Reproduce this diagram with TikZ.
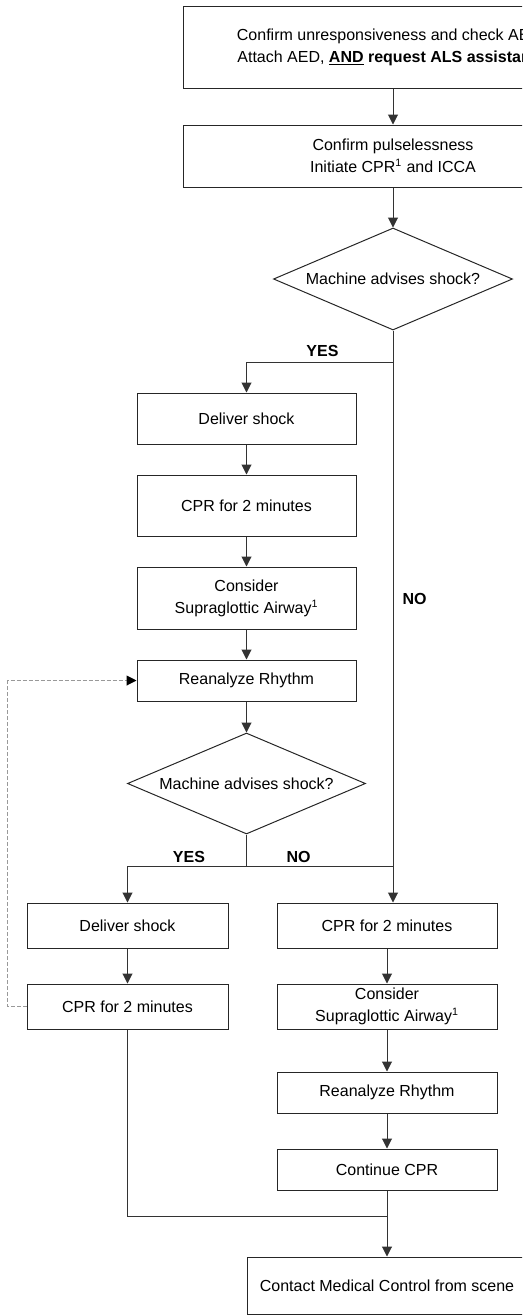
\documentclass[tikz,border=0pt]{standalone}
\usepackage{fontspec}
\setmainfont{Liberation Sans}
\usetikzlibrary{shapes.geometric,arrows.meta}

\tikzset{
  box/.style={draw=black!85, line width=0.75pt, align=center, inner sep=0pt,
    font=\fontsize{12}{16.5}\selectfont},
  ask/.style={diamond, shape aspect=2.34, draw=black!85, line width=0.75pt, inner sep=0pt,
    font=\fontsize{12}{16.5}\selectfont},
  flow/.style={draw=black!80, line width=0.75pt},
  go/.style={flow, -{Triangle[length=7.5pt,width=7.5pt]}},
  back/.style={draw=black!40, line width=0.75pt, dash pattern=on 3pt off 1.5pt,
    -{Triangle[length=7.5pt,width=7.5pt,black]}},
  tag/.style={font=\fontsize{12}{14}\selectfont\bfseries}
}

\begin{document}
\begin{tikzpicture}[x=0.75pt, y=-0.75pt]
			\path[use as bounding box, clip] (0,0) rectangle (522,1315);
			% top of the chart
			\node[box, minimum width=420*0.75pt, minimum height=82*0.75pt] (check) at (393,47)
			  {Confirm unresponsiveness and check ABCs\\Attach AED, \underline{\textbf{AND}} \textbf{request ALS assistance}};
			\node[box, minimum width=420*0.75pt, minimum height=62*0.75pt] (pulse) at (393,156)
			  {Confirm pulselessness\\Initiate CPR\textsuperscript{1} and ICCA};
			\node[ask, minimum width=239*0.75pt, minimum height=102*0.75pt] (shockA) at (393,279) {Machine advises shock?};
			% first shock column
			\node[box, minimum width=219*0.75pt, minimum height=51*0.75pt] (shock1) at (246.5,418.5) {Deliver shock};
			\node[box, minimum width=219*0.75pt, minimum height=61*0.75pt] (cpr1) at (246.5,505.5) {CPR for 2 minutes};
			\node[box, minimum width=219*0.75pt, minimum height=62*0.75pt] (airway1) at (246.5,598) {Consider\\Supraglottic Airway\textsuperscript{1}};
			\node[box, minimum width=219*0.75pt, minimum height=41*0.75pt] (rhythm1) at (246.5,680.5) {Reanalyze Rhythm};
			\node[ask, minimum width=238*0.75pt, minimum height=101*0.75pt] (shockB) at (246.5,783.5) {Machine advises shock?};
			% second shock column
			\node[box, minimum width=201*0.75pt, minimum height=45*0.75pt] (shock2) at (127.5,925.5) {Deliver shock};
			\node[box, minimum width=201*0.75pt, minimum height=45*0.75pt] (cpr2) at (127.5,1006.5) {CPR for 2 minutes};
			% no shock column
			\node[box, minimum width=220*0.75pt, minimum height=45*0.75pt] (cpr3) at (387,925.5) {CPR for 2 minutes};
			\node[box, minimum width=220*0.75pt, minimum height=45*0.75pt] (airway2) at (387,1006.5) {Consider\\Supraglottic Airway\textsuperscript{1}};
			\node[box, minimum width=220*0.75pt, minimum height=41*0.75pt] (rhythm2) at (387,1092.5) {Reanalyze Rhythm};
			\node[box, minimum width=220*0.75pt, minimum height=41*0.75pt] (cont) at (387,1169.5) {Continue CPR};
			\node[box, minimum width=280*0.75pt, minimum height=57*0.75pt] (medctl) at (387,1285.5) {Contact Medical Control from scene};
			% branch points
			\coordinate (splitA) at (393,362);
			\coordinate (splitB) at (246.5,866);
			\coordinate (merge) at (387,1216);
			% labels
			\node[tag] (yesA) at (322.5,351) {YES};
			\node[tag] (noA) at (414.5,599) {NO};
			\node[tag] (yesB) at (189,857) {YES};
			\node[tag] (noB) at (298.5,857) {NO};
			% connectors
			\draw[go] (check) -- (pulse);
			\draw[go] (pulse) -- (shockA);
			\draw[flow] (shockA.south) -- (splitA);
			\draw[go] (splitA) -| (shock1);
			\draw[go] (splitA) -- (splitA |- cpr3.north);
			\draw[go] (shock1) -- (cpr1);
			\draw[go] (cpr1) -- (airway1);
			\draw[go] (airway1) -- (rhythm1);
			\draw[go] (rhythm1) -- (shockB);
			\draw[flow] (shockB.south) -- (splitB);
			\draw[go] (splitB) -| (shock2);
			\draw[flow] (splitB) -- (splitA |- splitB);
			\draw[go] (shock2) -- (cpr2);
			\draw[go] (cpr3) -- (airway2);
			\draw[go] (airway2) -- (rhythm2);
			\draw[go] (rhythm2) -- (cont);
			\draw[flow] (cpr2) |- (merge);
			\draw[go] (cont) -- (medctl);
			\draw[back] (cpr2.west) -- ++(-19,0) |- (rhythm1.west);
\end{tikzpicture}
\end{document}
